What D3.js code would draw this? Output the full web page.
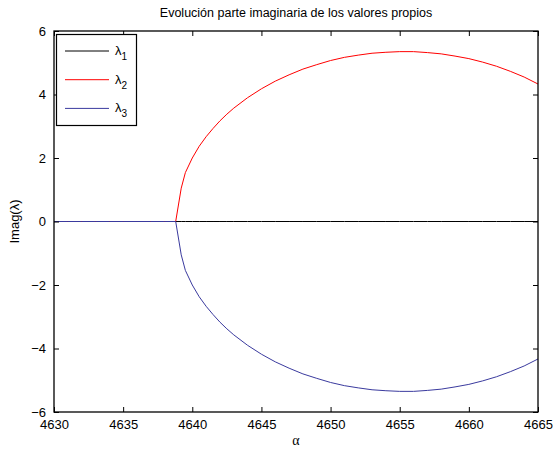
<!DOCTYPE html>
<html>
<head>
<meta charset="utf-8">
<script src="https://cdn.jsdelivr.net/npm/d3@7"></script>
<style>
  body { margin: 0; background: #fff; }
  text { font-family: "Liberation Sans", Arial, sans-serif; }
</style>
</head>
<body>
<div id="chart"></div>
<script>
// alpha samples and the imaginary part of eigenvalues
const alpha = [4630, 4631, 4632, 4633, 4634, 4635, 4636, 4637, 4638, 4638.8, 4639.2,
  4639.5, 4640, 4640.5, 4641, 4641.5, 4642, 4642.5, 4643, 4644, 4645, 4646, 4647, 4648,
  4649, 4650, 4651, 4652, 4653, 4654, 4655, 4656, 4657, 4658, 4659, 4660, 4661, 4662,
  4663, 4664, 4665];
const lambda1 = [0, 0, 0, 0, 0, 0, 0, 0, 0, 0, 0,
  0, 0, 0, 0, 0, 0, 0, 0, 0, 0, 0, 0, 0,
  0, 0, 0, 0, 0, 0, 0, 0, 0, 0, 0, 0, 0, 0,
  0, 0, 0];
const lambda2 = [0, 0, 0, 0, 0, 0, 0, 0, 0, 0, 1.05,
  1.54, 2.0, 2.37, 2.67, 2.93, 3.17, 3.38, 3.57, 3.9, 4.18, 4.42, 4.62, 4.8,
  4.94, 5.07, 5.17, 5.24, 5.3, 5.33, 5.35, 5.35, 5.32, 5.28, 5.21, 5.13, 5.02, 4.89,
  4.73, 4.55, 4.33];
const lambda3 = [0, 0, 0, 0, 0, 0, 0, 0, 0, 0, -1.05,
  -1.54, -2.0, -2.37, -2.67, -2.93, -3.17, -3.38, -3.57, -3.9, -4.18, -4.42, -4.62, -4.8,
  -4.94, -5.07, -5.17, -5.24, -5.3, -5.33, -5.35, -5.35, -5.32, -5.28, -5.21, -5.13, -5.02, -4.89,
  -4.73, -4.55, -4.33];
const xTicks = [4630, 4635, 4640, 4645, 4650, 4655, 4660, 4665];
const yTicks = [-6, -4, -2, 0, 2, 4, 6];
const seriesNames = ["1", "2", "3"];

const width = 557, height = 451;
const margin = { top: 31, right: 19, bottom: 39, left: 54 };

const svg = d3.select("#chart").append("svg")
  .attr("width", width).attr("height", height);

const x = d3.scaleLinear().domain([4630, 4665]).range([margin.left, width - margin.right]);
const y = d3.scaleLinear().domain([-6, 6]).range([height - margin.bottom, margin.top]);

const series = [
  { name: seriesNames[0], values: lambda1, color: "#000000" },
  { name: seriesNames[1], values: lambda2, color: "#ff0000" },
  { name: seriesNames[2], values: lambda3, color: "#3a3a9e" }
];

const line = d3.line()
  .x((d, i) => x(alpha[i]))
  .y((d) => y(d));

svg.append("g")
  .selectAll("path")
  .data(series)
  .join("path")
  .attr("fill", "none")
  .attr("stroke", (d) => d.color)
  .attr("stroke-width", 1)
  .attr("d", (d) => line(d.values));

// axes with inward ticks (box on)
const tick = 5;
const axisFont = (g) => g.call((g) => g.select(".domain").remove())
  .selectAll("text").attr("font-size", 13).attr("fill", "#000")
  .attr("font-family", "Liberation Sans, Arial, sans-serif");

svg.append("g")
  .attr("transform", `translate(0,${y(-6)})`)
  .call(d3.axisBottom(x).tickValues(xTicks).tickSize(-tick).tickPadding(8).tickFormat(d3.format("d")))
  .call(axisFont);
svg.append("g")
  .attr("transform", `translate(0,${y(6)})`)
  .call(d3.axisTop(x).tickValues(xTicks).tickSize(-tick).tickFormat(""))
  .call((g) => g.select(".domain").remove());
svg.append("g")
  .attr("transform", `translate(${x(4630)},0)`)
  .call(d3.axisLeft(y).tickValues(yTicks).tickSize(-tick).tickPadding(8)
    .tickFormat((d) => d < 0 ? "\u2212" + Math.abs(d) : d))
  .call(axisFont);
svg.append("g")
  .attr("transform", `translate(${x(4665)},0)`)
  .call(d3.axisRight(y).tickValues(yTicks).tickSize(-tick).tickFormat(""))
  .call((g) => g.select(".domain").remove());

svg.selectAll(".tick line").attr("stroke", "#000");

svg.append("rect")
  .attr("x", x(4630)).attr("y", y(6))
  .attr("width", x(4665) - x(4630)).attr("height", y(-6) - y(6))
  .attr("fill", "none").attr("stroke", "#000").attr("stroke-width", 1.3);

// title and labels
svg.append("text")
  .attr("x", (x(4630) + x(4665)) / 2).attr("y", 17)
  .attr("text-anchor", "middle").attr("font-size", 12.5)
  .text("Evolución parte imaginaria de los valores propios");

svg.append("text")
  .attr("x", (x(4630) + x(4665)) / 2).attr("y", 445)
  .attr("text-anchor", "middle").attr("font-size", 14)
  .style("font-family", "'Liberation Serif', 'DejaVu Serif', serif")
  .text("α");

svg.append("text")
  .attr("transform", `translate(19,${y(0)}) rotate(-90)`)
  .attr("text-anchor", "middle").attr("font-size", 13)
  .text("Imag(λ)");

// legend
const lg = svg.append("g");
lg.append("rect")
  .attr("x", 56.5).attr("y", 34.5).attr("width", 80).attr("height", 91)
  .attr("fill", "#fff").attr("stroke", "#000").attr("stroke-width", 1.2);
const items = lg.selectAll("g.item").data(series).join("g")
  .attr("class", "item")
  .attr("transform", (d, i) => `translate(0,${51 + i * 28.7})`);
items.append("line")
  .attr("x1", 65).attr("x2", 109)
  .attr("stroke", (d) => d.color).attr("stroke-width", 1);
const lt = items.append("text")
  .attr("x", 115).attr("y", 4).attr("font-size", 13);
lt.append("tspan").text("λ");
lt.append("tspan").attr("dy", 5).attr("font-size", 10).text((d) => d.name);
</script>
</body>
</html>
